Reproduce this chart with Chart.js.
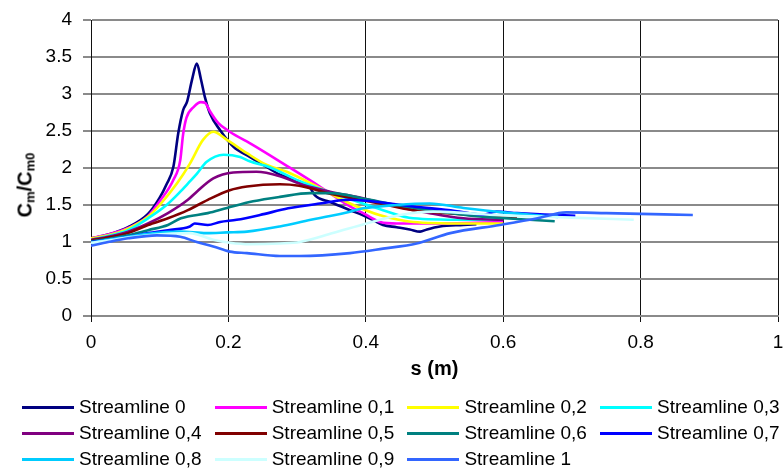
<!DOCTYPE html>
<html>
<head>
<meta charset="utf-8">
<script src="https://cdn.jsdelivr.net/npm/chart.js@4/dist/chart.umd.min.js"></script>
<style>
  html, body { margin: 0; padding: 0; background: #fff; }
  #wrap { position: relative; width: 783px; height: 469px; overflow: hidden; font-family: "Liberation Sans", Arial, sans-serif; }
  #c { position: absolute; left: 0; top: 0; }
  .ttl { position: absolute; font-weight: bold; font-size: 20px; white-space: nowrap; color: #000; }
  .ttl sub { font-size: 65%; vertical-align: -0.25em; line-height: 0; }
  .lg-line { position: absolute; height: 3px; width: 52px; }
  .lg-text { position: absolute; font-size: 19px; line-height: 22px; white-space: nowrap; color: #000; }
</style>
</head>
<body>
<div id="wrap">
  <canvas id="c" width="783" height="469"></canvas>
  <div class="ttl" id="xt">s (m)</div>
  <div class="ttl" id="yt">C<sub>m</sub>/C<sub>m0</sub></div>
</div>
<script>
const seriesNames = ['Streamline 0','Streamline 0,1','Streamline 0,2','Streamline 0,3','Streamline 0,4','Streamline 0,5','Streamline 0,6','Streamline 0,7','Streamline 0,8','Streamline 0,9','Streamline 1'];
const seriesColors = ['#000080','#FF00FF','#FFFF00','#00FFFF','#800080','#800000','#008080','#0000FF','#00CCFF','#CCFFFF','#3366FF'];
const xTickLabels = ['0','0.2','0.4','0.6','0.8','1'];
const yTickLabels = ['0','0.5','1','1.5','2','2.5','3','3.5','4'];

const s_00 = [0, 0.025, 0.054, 0.083, 0.10, 0.11, 0.12, 0.127, 0.134, 0.140, 0.147, 0.154, 0.160, 0.166, 0.173, 0.188, 0.207, 0.231, 0.246, 0.275, 0.304, 0.319, 0.326, 0.348, 0.377, 0.396, 0.41, 0.425, 0.445, 0.464, 0.479, 0.489, 0.508, 0.542, 0.561];
const c_00 = [1.05, 1.10, 1.20, 1.38, 1.60, 1.78, 2.02, 2.47, 2.78, 2.90, 3.19, 3.41, 3.20, 2.95, 2.74, 2.51, 2.29, 2.15, 2.07, 1.91, 1.815, 1.73, 1.63, 1.54, 1.43, 1.36, 1.30, 1.23, 1.20, 1.17, 1.14, 1.17, 1.21, 1.23, 1.24];
const s_01 = [0, 0.025, 0.054, 0.083, 0.10, 0.12, 0.13, 0.134, 0.139, 0.150, 0.160, 0.166, 0.173, 0.185, 0.202, 0.236, 0.285, 0.333, 0.377, 0.396, 0.421, 0.445, 0.50, 0.56, 0.60];
const c_01 = [1.05, 1.10, 1.19, 1.35, 1.55, 1.84, 2.11, 2.45, 2.68, 2.83, 2.89, 2.88, 2.77, 2.61, 2.49, 2.31, 2.03, 1.75, 1.48, 1.39, 1.27, 1.25, 1.25, 1.26, 1.27];
const s_02 = [0, 0.025, 0.054, 0.083, 0.10, 0.125, 0.144, 0.163, 0.178, 0.198, 0.227, 0.256, 0.285, 0.333, 0.377, 0.421, 0.469, 0.542, 0.60];
const c_02 = [1.05, 1.09, 1.18, 1.34, 1.50, 1.79, 2.06, 2.38, 2.49, 2.38, 2.20, 2.04, 1.95, 1.73, 1.52, 1.36, 1.27, 1.25, 1.25];
const s_03 = [0, 0.025, 0.054, 0.083, 0.11, 0.13, 0.141, 0.154, 0.168, 0.193, 0.217, 0.231, 0.26, 0.304, 0.377, 0.425, 0.469, 0.542, 0.60];
const c_03 = [1.03, 1.08, 1.16, 1.32, 1.50, 1.68, 1.79, 1.92, 2.08, 2.18, 2.15, 2.09, 2.01, 1.82, 1.58, 1.43, 1.32, 1.30, 1.30];
const s_04 = [0, 0.025, 0.054, 0.083, 0.112, 0.141, 0.154, 0.178, 0.207, 0.241, 0.275, 0.309, 0.348, 0.396, 0.445, 0.493, 0.542, 0.60];
const c_04 = [1.03, 1.07, 1.14, 1.25, 1.39, 1.57, 1.68, 1.86, 1.94, 1.95, 1.89, 1.77, 1.68, 1.59, 1.48, 1.39, 1.32, 1.30];
const s_05 = [0, 0.025, 0.054, 0.083, 0.112, 0.141, 0.17, 0.202, 0.227, 0.275, 0.303, 0.35, 0.421, 0.469, 0.518, 0.552, 0.595, 0.62];
const c_05 = [1.02, 1.06, 1.12, 1.23, 1.32, 1.43, 1.57, 1.70, 1.75, 1.78, 1.76, 1.65, 1.52, 1.43, 1.39, 1.365, 1.34, 1.32];
const s_06 = [0, 0.025, 0.054, 0.083, 0.112, 0.131, 0.17, 0.198, 0.236, 0.275, 0.319, 0.35, 0.40, 0.445, 0.493, 0.55, 0.62, 0.675];
const c_06 = [1.01, 1.04, 1.09, 1.16, 1.23, 1.32, 1.39, 1.46, 1.55, 1.61, 1.66, 1.66, 1.58, 1.50, 1.43, 1.36, 1.31, 1.28];
const s_07 = [0, 0.025, 0.054, 0.083, 0.112, 0.144, 0.151, 0.17, 0.188, 0.212, 0.246, 0.287, 0.333, 0.377, 0.396, 0.469, 0.53, 0.571, 0.59, 0.62, 0.66, 0.705];
const c_07 = [1.00, 1.03, 1.07, 1.12, 1.16, 1.21, 1.25, 1.23, 1.27, 1.30, 1.365, 1.455, 1.52, 1.57, 1.56, 1.48, 1.42, 1.37, 1.41, 1.39, 1.37, 1.355];
const s_08 = [0, 0.025, 0.054, 0.083, 0.13, 0.168, 0.198, 0.227, 0.275, 0.32, 0.348, 0.377, 0.396, 0.445, 0.493, 0.542, 0.60, 0.68];
const c_08 = [0.99, 1.03, 1.07, 1.11, 1.14, 1.12, 1.13, 1.14, 1.21, 1.30, 1.35, 1.41, 1.455, 1.50, 1.52, 1.46, 1.40, 1.34];
const s_09 = [0, 0.025, 0.054, 0.083, 0.144, 0.178, 0.202, 0.231, 0.275, 0.304, 0.352, 0.401, 0.45, 0.498, 0.547, 0.60, 0.70, 0.79];
const c_09 = [0.99, 1.02, 1.06, 1.09, 1.12, 1.03, 0.99, 0.97, 0.98, 1.00, 1.12, 1.25, 1.365, 1.41, 1.39, 1.36, 1.33, 1.30];
const s_10 = [0, 0.025, 0.054, 0.096, 0.13, 0.154, 0.178, 0.202, 0.227, 0.275, 0.304, 0.377, 0.425, 0.474, 0.523, 0.595, 0.65, 0.692, 0.75, 0.876];
const c_10 = [0.95, 1.00, 1.05, 1.09, 1.07, 1.00, 0.94, 0.87, 0.85, 0.81, 0.81, 0.85, 0.91, 0.98, 1.12, 1.23, 1.32, 1.40, 1.39, 1.365];

const sArrays = [s_00, s_01, s_02, s_03, s_04, s_05, s_06, s_07, s_08, s_09, s_10];
const cArrays = [c_00, c_01, c_02, c_03, c_04, c_05, c_06, c_07, c_08, c_09, c_10];

const FONT = '"Liberation Sans", Arial, sans-serif';

const datasets = seriesNames.map((name, i) => ({
  label: name,
  data: sArrays[i].map((s, k) => ({ x: s, y: cArrays[i][k] })),
  borderColor: seriesColors[i],
  backgroundColor: seriesColors[i],
  borderWidth: 2.6,
  pointRadius: 0,
  fill: false,
  cubicInterpolationMode: 'monotone',
  order: seriesNames.length - i
}));

const chart = new Chart(document.getElementById('c'), {
  type: 'line',
  data: { datasets },
  options: {
    responsive: false,
    animation: false,
    devicePixelRatio: 1,
    layout: { padding: { left: 0, right: 5, top: 20, bottom: 0 } },
    plugins: { legend: { display: false }, tooltip: { enabled: false } },
    scales: {
      x: {
        type: 'linear', min: 0, max: 1,
        ticks: { stepSize: 0.2, padding: 9, color: '#000', font: { family: FONT, size: 19 },
                 callback: (v, i) => xTickLabels[i], maxRotation: 0, autoSkip: false },
        grid: { color: '#111', lineWidth: 1, tickLength: 6, drawTicks: true },
        border: { color: '#8a8a8a', width: 2 },
        afterFit: (sc) => { sc.height = 153; sc.paddingLeft = 0; sc.paddingRight = 0; }
      },
      y: {
        type: 'linear', min: 0, max: 4,
        ticks: { stepSize: 0.5, padding: 11, color: '#000', font: { family: FONT, size: 19 },
                 callback: (v, i) => yTickLabels[i], autoSkip: false },
        grid: { color: '#8a8a8a', lineWidth: 2, tickLength: 8 },
        border: { color: '#111', width: 1 },
        afterFit: (sc) => { sc.width = 91; sc.paddingTop = 0; sc.paddingBottom = 0; }
      }
    }
  }
});

// titles
const ca = chart.chartArea;
const xt = document.getElementById('xt');
xt.style.left = ((ca.left + ca.right) / 2) + 'px';
xt.style.top = '368px';
xt.style.transform = 'translate(-50%, -50%)';
const yt = document.getElementById('yt');
yt.style.left = '25px';
yt.style.top = '185px';
yt.style.transform = 'translate(-50%, -50%) rotate(-90deg)';

// legend (HTML, generated from datasets)
const wrap = document.getElementById('wrap');
const rowY = [407, 433, 459];
chart.data.datasets.forEach((ds, i) => {
  const col = i % 4, row = Math.floor(i / 4);
  const x0 = 22 + col * 192.7;
  const cy = rowY[row];
  const ln = document.createElement('div');
  ln.className = 'lg-line';
  ln.style.left = x0 + 'px';
  ln.style.top = (cy - 1.5) + 'px';
  ln.style.background = ds.borderColor;
  wrap.appendChild(ln);
  const tx = document.createElement('div');
  tx.className = 'lg-text';
  tx.style.left = (x0 + 57) + 'px';
  tx.style.top = (cy - 10.8) + 'px';
  tx.textContent = ds.label;
  wrap.appendChild(tx);
});
</script>
</body>
</html>
